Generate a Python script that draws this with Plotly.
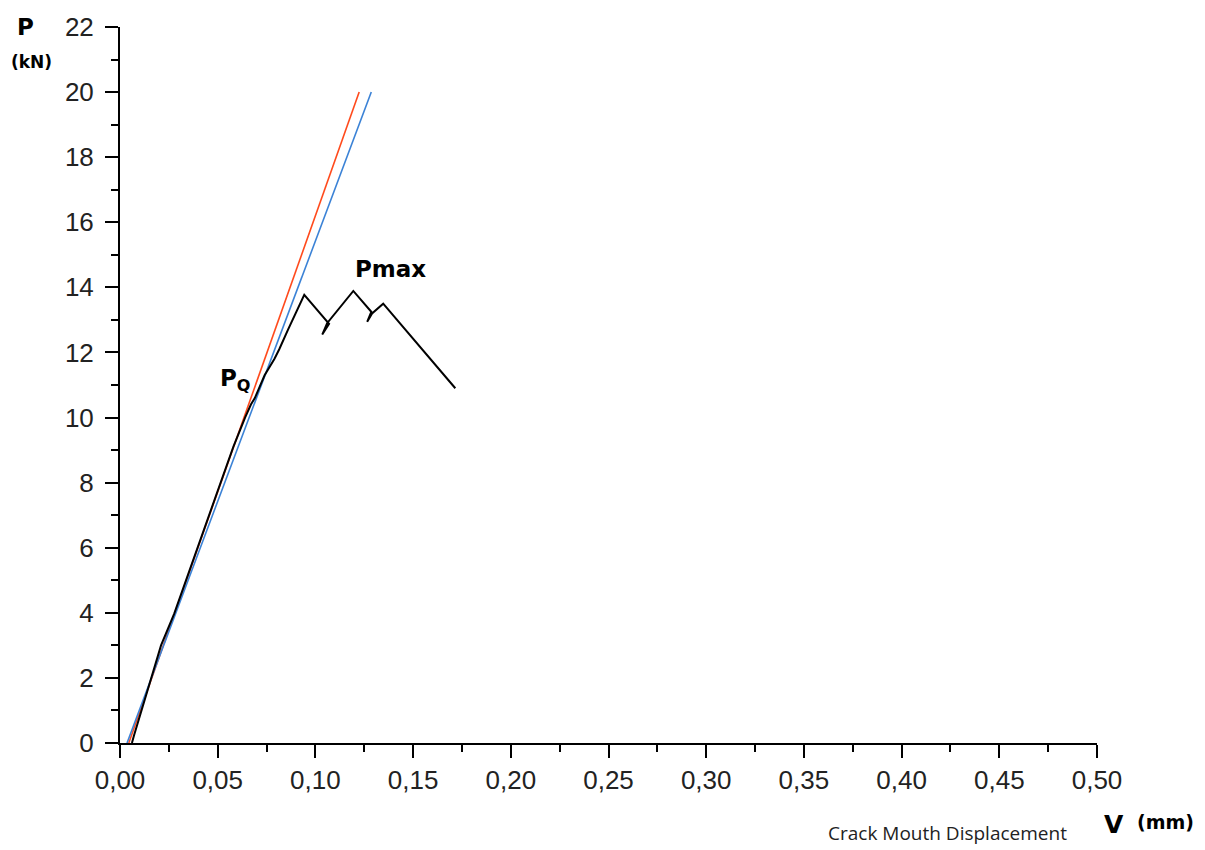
import plotly.graph_objects as go

# Data
red_v = [0.0045, 0.1224]
red_p = [0.0, 20.0]
blue_v = [0.0036, 0.1286]
blue_p = [0.0, 20.0]

black_v = [0.0061, 0.0072, 0.0140, 0.0210, 0.0277, 0.0350, 0.0420, 0.0500, 0.0580, 0.0640,
           0.0670, 0.0690, 0.0740, 0.0790, 0.0815, 0.0860, 0.0912, 0.0943,
           0.1070, 0.1035, 0.1060, 0.1130, 0.1194, 0.1286, 0.1265, 0.1290,
           0.1347, 0.1716]
black_p = [0.0, 0.24, 1.6, 3.0, 3.97, 5.2, 6.4, 7.7, 9.1, 10.0,
           10.4, 10.6, 11.3, 11.8, 12.1, 12.7, 13.4, 13.77,
           12.88, 12.55, 12.9, 13.4, 13.89, 13.25, 12.94, 13.2,
           13.5, 10.9]

x_tickvals = [0.0, 0.05, 0.10, 0.15, 0.20, 0.25, 0.30, 0.35, 0.40, 0.45, 0.50]
y_tickvals = [0, 2, 4, 6, 8, 10, 12, 14, 16, 18, 20, 22]

fig = go.Figure()
fig.add_trace(go.Scatter(x=red_v, y=red_p, mode="lines",
                         line=dict(color="#ff4a1c", width=1.6), showlegend=False))
fig.add_trace(go.Scatter(x=blue_v, y=blue_p, mode="lines",
                         line=dict(color="#3b82d6", width=1.6), showlegend=False))
fig.add_trace(go.Scatter(x=black_v, y=black_p, mode="lines",
                         line=dict(color="black", width=2), showlegend=False))

tickfont = dict(family="Liberation Sans, Arial, sans-serif", size=26, color="#222")

fig.update_layout(
    width=1205, height=850,
    margin=dict(l=120, r=108, t=24, b=107),
    paper_bgcolor="white", plot_bgcolor="white",
    separators=",.",
    xaxis=dict(range=[0, 0.5], tickvals=x_tickvals, tickformat=".2f",
               showgrid=False, zeroline=False, showline=True, linecolor="black", linewidth=2,
               ticks="outside", ticklen=13, tickwidth=2, tickcolor="black",
               tickfont=tickfont,
               minor=dict(dtick=0.025, ticks="outside", ticklen=7, tickwidth=2,
                          tickcolor="black", showgrid=False)),
    yaxis=dict(range=[0, 22], tickvals=y_tickvals,
               showgrid=False, zeroline=False, showline=True, linecolor="black", linewidth=2,
               ticks="outside", ticklen=13, tickwidth=2, tickcolor="black",
               tickfont=tickfont, ticklabelstandoff=6,
               minor=dict(dtick=1, ticks="outside", ticklen=7, tickwidth=2,
                          tickcolor="black", showgrid=False)),
)

bold = "DejaVu Sans, Verdana, sans-serif"
anns = [
    dict(text="<b>P</b>", x=25, y=850 - 24, size=23),
    dict(text="<b>(kN)</b>", x=31, y=850 - 59, size=17),
    dict(text="<b>V</b>", x=1114, y=850 - 825, size=25),
    dict(text="<b>(mm)</b>", x=1165, y=850 - 822, size=19),
]
for a in anns:
    fig.add_annotation(text=a["text"], xref="paper", yref="paper",
                       x=(a["x"] - 120) / (1205 - 228), y=(a["y"] - 107) / (850 - 131),
                       xanchor="center", yanchor="middle", showarrow=False,
                       font=dict(family=bold, size=a["size"], color="black"))

fig.add_annotation(text="Crack Mouth Displacement", xref="paper", yref="paper",
                   x=(947 - 120) / (1205 - 228), y=(850 - 833 - 107) / (850 - 131),
                   xanchor="center", yanchor="middle", showarrow=False,
                   font=dict(family="Open Sans, DejaVu Sans, sans-serif", size=19, color="#222"))

fig.add_annotation(text="<b>Pmax</b>", x=0.1382, y=14.55, xref="x", yref="y",
                   showarrow=False, xanchor="center", yanchor="middle",
                   font=dict(family=bold, size=23, color="black"))
fig.add_annotation(text="<b>P<sub>Q</sub></b>", x=0.0589, y=11.15, xref="x", yref="y",
                   showarrow=False, xanchor="center", yanchor="middle",
                   font=dict(family=bold, size=23, color="black"))

fig.write_html("out.html")
